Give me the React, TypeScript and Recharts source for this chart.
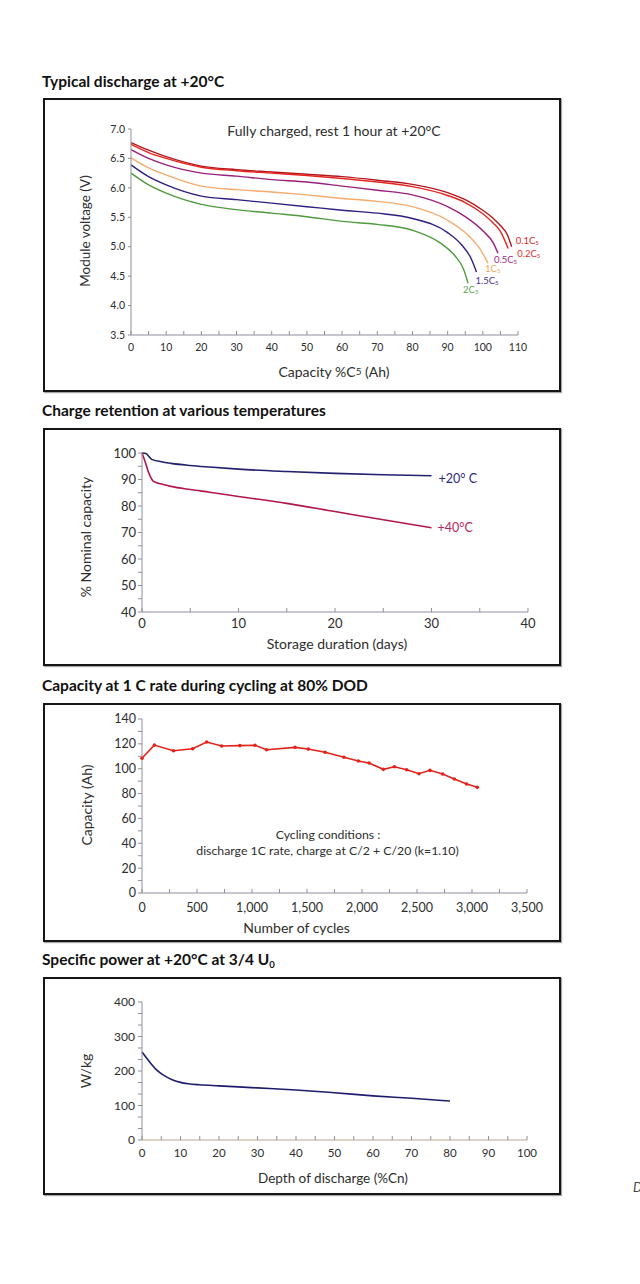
import React from 'react';
import { LineChart, Line, XAxis, YAxis, Label } from 'recharts';

const FONT = 'Lato, "Open Sans", "DejaVu Sans", sans-serif';
const INK = '#2d2d2d';
const AXIS = '#8d909c';

// ---------- Chart 1: Typical discharge at +20°C ----------
const dischargeRates = ['0.1', '0.2', '0.5', '1', '1.5', '2'];
const cap01 = [0, 5, 10, 20, 30, 40, 50, 60, 70, 80, 90, 95, 100, 103, 105, 107, 108.2];
const volt01 = [6.77, 6.64, 6.53, 6.37, 6.31, 6.27, 6.23, 6.19, 6.13, 6.06, 5.92, 5.8, 5.62, 5.48, 5.36, 5.2, 5.0];
const cap02 = [0, 5, 10, 20, 30, 40, 50, 60, 70, 80, 90, 95, 100, 103, 105, 107.2];
const volt02 = [6.74, 6.6, 6.5, 6.35, 6.29, 6.25, 6.21, 6.16, 6.1, 6.02, 5.87, 5.75, 5.56, 5.4, 5.26, 4.97];
const cap05 = [0, 5, 10, 20, 30, 40, 50, 60, 70, 80, 90, 95, 100, 103, 104.3];
const volt05 = [6.65, 6.5, 6.39, 6.25, 6.2, 6.14, 6.1, 6.03, 5.96, 5.88, 5.68, 5.51, 5.27, 5.06, 4.89];
const cap1 = [0, 5, 10, 20, 30, 40, 50, 60, 70, 80, 90, 95, 99, 101.5];
const volt1 = [6.51, 6.34, 6.22, 6.03, 5.97, 5.93, 5.88, 5.82, 5.77, 5.68, 5.45, 5.24, 4.98, 4.72];
const cap15 = [0, 5, 10, 20, 30, 40, 50, 60, 70, 80, 90, 94, 96.5, 98.2];
const volt15 = [6.39, 6.19, 6.05, 5.86, 5.8, 5.74, 5.68, 5.62, 5.57, 5.48, 5.24, 5.03, 4.82, 4.57];
const cap2 = [0, 5, 10, 20, 30, 40, 50, 60, 70, 80, 88, 92, 94.5, 95.8];
const volt2 = [6.25, 6.05, 5.91, 5.72, 5.63, 5.57, 5.51, 5.43, 5.38, 5.28, 5.06, 4.85, 4.62, 4.38];
const dischargeXTicks = [0, 5, 10, 15, 20, 25, 30, 35, 40, 45, 50, 55, 60, 65, 70, 75, 80, 85, 90, 95, 100, 105, 110];
const dischargeYTicks = [3.5, 4.0, 4.5, 5.0, 5.5, 6.0, 6.5, 7.0];

// ---------- Chart 2: Charge retention ----------
const retentionLabels = ['+20° C', '+40°C'];
const days20 = [0, 0.4, 1, 2, 3, 5, 7, 10, 15, 20, 25, 30];
const ret20 = [100, 99.8, 97.6, 96.7, 96.1, 95.3, 94.7, 93.9, 93.0, 92.3, 91.8, 91.4];
const days40 = [0, 0.3, 0.7, 1.2, 2, 3, 5, 7, 10, 15, 20, 25, 30];
const ret40 = [100, 97, 92.5, 89.3, 88.3, 87.4, 86.2, 85.2, 83.6, 81.0, 77.9, 74.8, 71.8];
const retentionXTicks = [0, 5, 10, 15, 20, 25, 30, 35, 40];
const retentionYTicks = [40, 45, 50, 55, 60, 65, 70, 75, 80, 85, 90, 95, 100];

// ---------- Chart 3: Capacity during cycling ----------
const cycles = [0, 112, 285, 460, 588, 724, 890, 1027, 1133, 1391, 1512, 1664, 1836, 1967, 2064, 2194, 2294, 2406, 2518, 2618, 2733, 2839, 2951, 3048];
const cycleCapacity = [108.4, 119, 114.5, 116.1, 121.5, 118.3, 118.6, 118.9, 115.3, 117.2, 115.8, 113.2, 109.2, 106.2, 104.6, 99.5, 101.6, 99.2, 96.0, 98.7, 95.7, 91.7, 87.7, 85.0];
const cyclesXTicks = [0, 250, 500, 750, 1000, 1250, 1500, 1750, 2000, 2250, 2500, 2750, 3000, 3250, 3500];
const cyclesYTicks = [0, 10, 20, 30, 40, 50, 60, 70, 80, 90, 100, 110, 120, 130, 140];

// ---------- Chart 4: Specific power ----------
const dod = [0, 2, 4, 6, 8, 10, 12, 15, 20, 30, 40, 50, 60, 70, 80];
const power = [255, 226, 201, 185, 174, 167, 163, 160, 157, 151, 145, 137, 128, 121, 113];
const powerXTicks = [0, 5, 10, 15, 20, 25, 30, 35, 40, 45, 50, 55, 60, 65, 70, 75, 80, 85, 90, 95, 100];
const powerYTicks = [0, 100 / 3, 200 / 3, 100, 400 / 3, 500 / 3, 200, 700 / 3, 800 / 3, 300, 1000 / 3, 1100 / 3, 400];

const pts = (xs: number[], ys: number[]) => xs.map((x, i) => ({ x, v: ys[i] }));
const isMult = (v: number, m: number) => Math.abs(v - Math.round(v / m) * m) < 1e-6;

function xTick(fmt: (v: number) => string | null, fontSize: number, gap: number, len = 4) {
  return (props: any) => {
    const { x, y, payload } = props;
    const lab = fmt(payload.value);
    return (
      <g>
        <line x1={x} x2={x} y1={y} y2={y - len} stroke={AXIS} strokeWidth={1} />
        {lab !== null && (
          <text x={x} y={y + gap} textAnchor="middle" dominantBaseline="central" fontSize={fontSize} fontFamily={FONT} fill={INK}>
            {lab}
          </text>
        )}
      </g>
    );
  };
}

type Txt = { content: React.ReactNode; dx: number; dy: number; size: number };
function xTitle(items: Txt[]) {
  return (props: any) => {
    const vb = props.viewBox || { x: 0, y: 0 };
    return (
      <g>
        {items.map((t, i) => (
          <text key={i} x={vb.x + t.dx} y={vb.y + t.dy} textAnchor="middle" dominantBaseline="central" fontSize={t.size} fontFamily={FONT} fill={INK}>
            {t.content}
          </text>
        ))}
      </g>
    );
  };
}

function yTitle(text: string, d: number, e: number, size: number) {
  return (props: any) => {
    const vb = props.viewBox || { x: 0, y: 0, width: 0, height: 0 };
    const cx = vb.x + vb.width - d;
    const cy = vb.y + vb.height / 2 + e;
    return (
      <text transform={`translate(${cx},${cy}) rotate(-90)`} textAnchor="middle" dominantBaseline="central" fontSize={size} fontFamily={FONT} fill={INK}>
        {text}
      </text>
    );
  };
}

function endLabel(n: number, content: React.ReactNode, color: string, dx: number, dy: number, size: number) {
  return (p: any) => {
    if (p.index !== n - 1) return <g />;
    const px = p.viewBox && typeof p.viewBox.x === 'number' ? p.viewBox.x : p.x;
    const py = p.viewBox && typeof p.viewBox.y === 'number' ? p.viewBox.y : p.y;
    return (
      <text x={px + dx} y={py + dy} fill={color} fontSize={size} fontFamily={FONT} dominantBaseline="central">
        {content}
      </text>
    );
  };
}

const rateText = (r: string) => (
  <>
    {r}C<tspan fontSize={6} dy={1.5}>5</tspan>
  </>
);

function Panel(props: { top: number; height: number; titleTop: number; title: React.ReactNode; children: React.ReactNode }) {
  const { top, height, titleTop, title, children } = props;
  return (
    <>
      <div style={{ position: 'absolute', left: 42, top: titleTop, font: `bold 15.5px ${FONT}`, lineHeight: '18px', color: '#111', whiteSpace: 'nowrap' }}>
        {title}
      </div>
      <div style={{ position: 'absolute', left: 43, top, width: 518, height }}>
        {children}
        <div
          style={{
            position: 'absolute',
            left: 0,
            top: 0,
            width: 518,
            height,
            boxSizing: 'border-box',
            border: '2px solid #161616',
            boxShadow: '1px 1px 1px rgba(0,0,0,0.35)',
            pointerEvents: 'none',
          }}
        />
      </div>
    </>
  );
}

const dischargeSeries = [
  { xs: cap01, ys: volt01, color: '#b5151f', label: '#d42a2c', dx: 4, dy: -6 },
  { xs: cap02, ys: volt02, color: '#e3261f', label: '#db2f2f', dx: 9, dy: 5 },
  { xs: cap05, ys: volt05, color: '#97207d', label: '#9a2a82', dx: -4, dy: 6 },
  { xs: cap1, ys: volt1, color: '#f4ab6e', label: '#f2a860', dx: -3, dy: 5 },
  { xs: cap15, ys: volt15, color: '#2c1f80', label: '#4a3192', dx: -1, dy: 8 },
  { xs: cap2, ys: volt2, color: '#4f9a3e', label: '#5ea24c', dx: -5, dy: 6 },
];

export default function App() {
  const yTick = (size: number) => ({ fontSize: size, fill: INK, fontFamily: FONT });
  return (
    <div style={{ position: 'absolute', left: 0, top: 0, width: 640, height: 1284, overflow: 'hidden', background: '#fff' }}>
      {/* Chart 1 */}
      <Panel top={98} height={294} titleTop={72} title="Typical discharge at +20°C">
        <LineChart width={518} height={294} margin={{ top: 31, right: 43, bottom: 27, left: 48 }}>
          <XAxis
            type="number"
            dataKey="x"
            domain={[0, 110]}
            ticks={dischargeXTicks}
            interval={0}
            tickLine={false}
            tickSize={0}
            tickMargin={0}
            height={30}
            axisLine={{ stroke: AXIS }}
            tick={xTick((v) => (isMult(v, 10) ? String(v) : null), 10.5, 12)}
          >
            <Label
              content={xTitle([
                {
                  content: (
                    <>
                      Capacity %C<tspan fontSize={10}>5</tspan> (Ah)
                    </>
                  ),
                  dx: 203,
                  dy: 36,
                  size: 14,
                },
                { content: 'Fully charged, rest 1 hour at +20°C', dx: 203, dy: -205, size: 14 },
              ])}
            />
          </XAxis>
          <YAxis
            type="number"
            domain={[3.5, 7]}
            ticks={dischargeYTicks}
            interval={0}
            width={40}
            tickSize={3}
            tickMargin={3}
            axisLine={{ stroke: AXIS }}
            tickLine={{ stroke: AXIS }}
            tick={yTick(10.5)}
            tickFormatter={(v: number) => v.toFixed(1)}
          >
            <Label content={yTitle('Module voltage (V)', 46, -1, 13.5)} />
          </YAxis>
          {dischargeSeries.map((s, i) => (
            <Line
              key={i}
              data={pts(s.xs, s.ys)}
              dataKey="v"
              type="monotone"
              stroke={s.color}
              strokeWidth={1.4}
              dot={false}
              isAnimationActive={false}
              label={endLabel(s.xs.length, rateText(dischargeRates[i]), s.label, s.dx, s.dy, 9.5)}
            />
          ))}
        </LineChart>
      </Panel>

      {/* Chart 2 */}
      <Panel top={428} height={238} titleTop={401} title="Charge retention at various temperatures">
        <LineChart width={518} height={238} margin={{ top: 25, right: 33, bottom: 24, left: 59 }}>
          <XAxis
            type="number"
            dataKey="x"
            domain={[0, 40]}
            ticks={retentionXTicks}
            interval={0}
            tickLine={false}
            tickSize={0}
            tickMargin={0}
            height={30}
            axisLine={{ stroke: AXIS }}
            tick={xTick((v) => (isMult(v, 10) ? String(v) : null), 13, 11)}
          >
            <Label content={xTitle([{ content: 'Storage duration (days)', dx: 195, dy: 31, size: 14 }])} />
          </XAxis>
          <YAxis
            type="number"
            domain={[40, 100]}
            ticks={retentionYTicks}
            interval={0}
            width={40}
            tickSize={4}
            tickMargin={2}
            axisLine={{ stroke: AXIS }}
            tickLine={{ stroke: AXIS }}
            tick={yTick(13)}
            tickFormatter={(v: number) => (isMult(v, 10) ? String(v) : '')}
          >
            <Label content={yTitle('% Nominal capacity', 57, 4.5, 14)} />
          </YAxis>
          <Line
            data={pts(days20, ret20)}
            dataKey="v"
            type="monotone"
            stroke="#23206e"
            strokeWidth={1.6}
            dot={false}
            isAnimationActive={false}
            label={endLabel(days20.length, retentionLabels[0], '#2a2a80', 7, 3, 12.5)}
          />
          <Line
            data={pts(days40, ret40)}
            dataKey="v"
            type="monotone"
            stroke="#b1164f"
            strokeWidth={1.6}
            dot={false}
            isAnimationActive={false}
            label={endLabel(days40.length, retentionLabels[1], '#b8245c', 6, 0, 12.5)}
          />
        </LineChart>
      </Panel>

      {/* Chart 3 */}
      <Panel top={703} height={239} titleTop={676} title="Capacity at 1 C rate during cycling at 80% DOD">
        <LineChart width={518} height={239} margin={{ top: 16, right: 34, bottom: 19, left: 59 }}>
          <XAxis
            type="number"
            dataKey="x"
            domain={[0, 3500]}
            ticks={cyclesXTicks}
            interval={0}
            tickLine={false}
            tickSize={0}
            tickMargin={0}
            height={30}
            axisLine={{ stroke: AXIS }}
            tick={xTick((v) => (isMult(v, 500) ? v.toLocaleString('en-US') : null), 12.5, 14)}
          >
            <Label
              content={xTitle([
                { content: 'Number of cycles', dx: 154.5, dy: 34, size: 14 },
                { content: 'Cycling conditions :', dx: 186, dy: -59, size: 12.3 },
                { content: 'discharge 1C rate, charge at C/2 + C/20 (k=1.10)', dx: 185.5, dy: -43, size: 12.3 },
              ])}
            />
          </XAxis>
          <YAxis
            type="number"
            domain={[0, 140]}
            ticks={cyclesYTicks}
            interval={0}
            width={40}
            tickSize={4}
            tickMargin={2}
            axisLine={{ stroke: AXIS }}
            tickLine={{ stroke: AXIS }}
            tick={yTick(12.5)}
            tickFormatter={(v: number) => (isMult(v, 20) ? String(v) : '')}
          >
            <Label content={yTitle('Capacity (Ah)', 56, -1, 14)} />
          </YAxis>
          <Line
            data={pts(cycles, cycleCapacity)}
            dataKey="v"
            type="linear"
            stroke="#e3221b"
            strokeWidth={1.6}
            dot={{ r: 1.8, fill: '#e3221b', stroke: 'none' }}
            isAnimationActive={false}
          />
        </LineChart>
      </Panel>

      {/* Chart 4 */}
      <Panel
        top={977}
        height={218}
        titleTop={950}
        title={
          <>
            Specific power at +20°C at 3/4 U<span style={{ fontSize: 9.5, position: 'relative', top: 3 }}>0</span>
          </>
        }
      >
        <LineChart width={518} height={218} margin={{ top: 25, right: 34, bottom: 25, left: 59 }}>
          <XAxis
            type="number"
            dataKey="x"
            domain={[0, 100]}
            ticks={powerXTicks}
            interval={0}
            tickLine={false}
            tickSize={0}
            tickMargin={0}
            height={30}
            axisLine={{ stroke: '#b3aa92' }}
            tick={xTick((v) => (isMult(v, 10) ? String(v) : null), 11.5, 12)}
          >
            <Label content={xTitle([{ content: 'Depth of discharge (%Cn)', dx: 191, dy: 38, size: 13.5 }])} />
          </XAxis>
          <YAxis
            type="number"
            domain={[0, 400]}
            ticks={powerYTicks}
            interval={0}
            width={40}
            tickSize={4}
            tickMargin={3}
            axisLine={{ stroke: AXIS }}
            tickLine={{ stroke: AXIS }}
            tick={yTick(12)}
            tickFormatter={(v: number) => (isMult(v, 100) ? String(Math.round(v)) : '')}
          >
            <Label content={yTitle('W/kg', 57, 0, 14)} />
          </YAxis>
          <Line
            data={pts(dod, power)}
            dataKey="v"
            type="monotone"
            stroke="#1e1c6c"
            strokeWidth={1.6}
            dot={false}
            isAnimationActive={false}
          />
        </LineChart>
      </Panel>

      <span style={{ position: 'absolute', left: 633, top: 1179, font: `italic 13px ${FONT}`, color: '#444' }}>D</span>
    </div>
  );
}
